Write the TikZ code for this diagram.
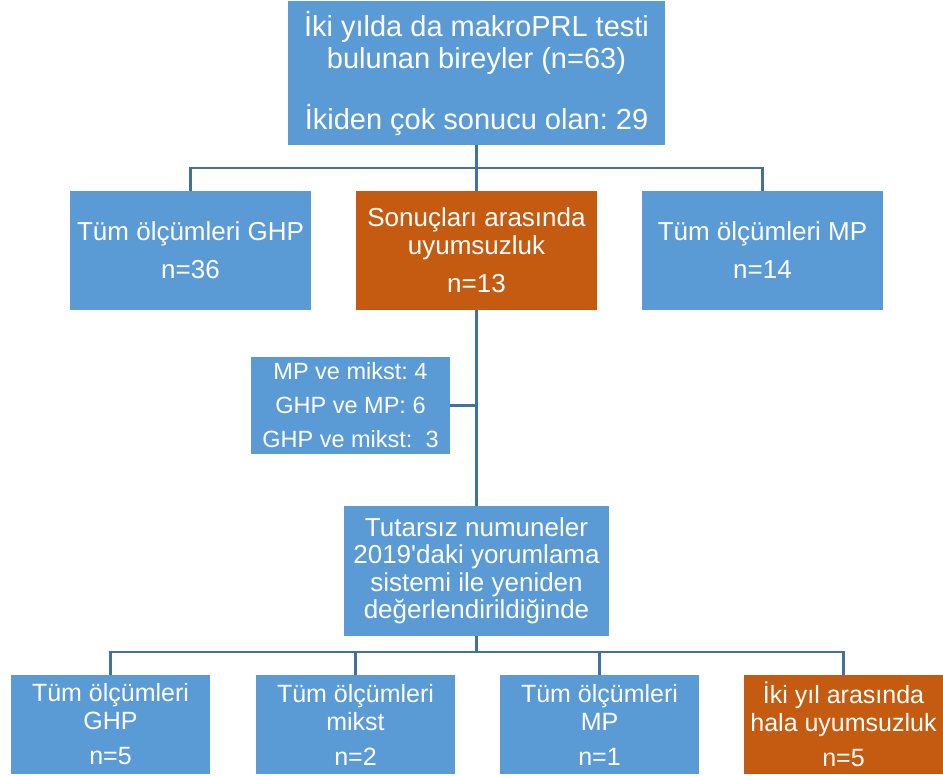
\documentclass[tikz,border=0pt]{standalone}
\usepackage{fontspec}
\setmainfont{Liberation Sans}[Ligatures=TeXOff]
\frenchspacing
\definecolor{boxblue}{HTML}{5B9BD5}
\definecolor{boxorange}{HTML}{C55A11}
\definecolor{linkblue}{HTML}{41719C}

\begin{document}
\begin{tikzpicture}[x=1pt,y=-1pt,
  bluebox/.style={fill=boxblue,text=white,align=center,inner sep=0pt},
  orangebox/.style={bluebox,fill=boxorange},
  link/.style={draw=linkblue,line width=2.5pt}]
\useasboundingbox (0,0) rectangle (943,776);

\node[bluebox,minimum width=377pt,minimum height=144pt,font=\fontsize{29}{32}\selectfont] (all) at (476.5,73) {İki yılda da makroPRL testi\\bulunan bireyler (n=63)\\[29pt]İkiden çok sonucu olan: 29};

\node[bluebox,minimum width=241pt,minimum height=119pt,font=\fontsize{26}{28}\selectfont] (ghp) at (190.5,250.5) {Tüm ölçümleri GHP\\[10pt]n=36};
\node[orangebox,minimum width=241pt,minimum height=119pt,font=\fontsize{26}{28}\selectfont] (dis) at (476.5,250.5) {Sonuçları arasında\\uyumsuzluk\\[10pt]n=13};
\node[bluebox,minimum width=241pt,minimum height=119pt,font=\fontsize{26}{28}\selectfont] (mp) at (762.5,250.5) {Tüm ölçümleri MP\\[10pt]n=14};

\node[bluebox,minimum width=199pt,minimum height=97pt,font=\fontsize{23.5}{34}\selectfont] (side) at (350.5,405.5) {MP ve mikst: 4\\GHP ve MP: 6\\GHP ve mikst: \ 3};

\node[bluebox,minimum width=265pt,minimum height=130pt,font=\fontsize{26}{27.5}\selectfont] (reev) at (476.5,571) {Tutarsız numuneler\\2019'daki yorumlama\\sistemi ile yeniden\\değerlendirildiğinde};

\node[bluebox,minimum width=199pt,minimum height=99pt,font=\fontsize{25}{28}\selectfont] (lghp) at (110.5,724.5) {Tüm ölçümleri\\GHP\\[7pt]n=5};
\node[bluebox,minimum width=199pt,minimum height=99pt,font=\fontsize{25}{28}\selectfont] (lmikst) at (355.5,724.5) {Tüm ölçümleri\\mikst\\[7pt]n=2};
\node[bluebox,minimum width=199pt,minimum height=99pt,font=\fontsize{25}{28}\selectfont] (lmp) at (599.5,724.5) {Tüm ölçümleri\\MP\\[7pt]n=1};
\node[orangebox,minimum width=199pt,minimum height=99pt,font=\fontsize{25}{28}\selectfont] (lhala) at (843.5,724.5) {İki yıl arasında\\hala uyumsuzluk\\[7pt]n=5};

% connectors
\foreach \n in {ghp,dis,mp}{
    \draw[link] (all.south) -- ++(0,23) -| (\n.north);
}
\draw[link] (dis.south) -- (reev.north);
\draw[link] (side.east) -- (side.east -| dis.south);
\foreach \n in {lghp,lmikst,lmp,lhala}{
    \draw[link] (reev.south) -- ++(0,16) -| (\n.north);
}
\end{tikzpicture}
\end{document}
